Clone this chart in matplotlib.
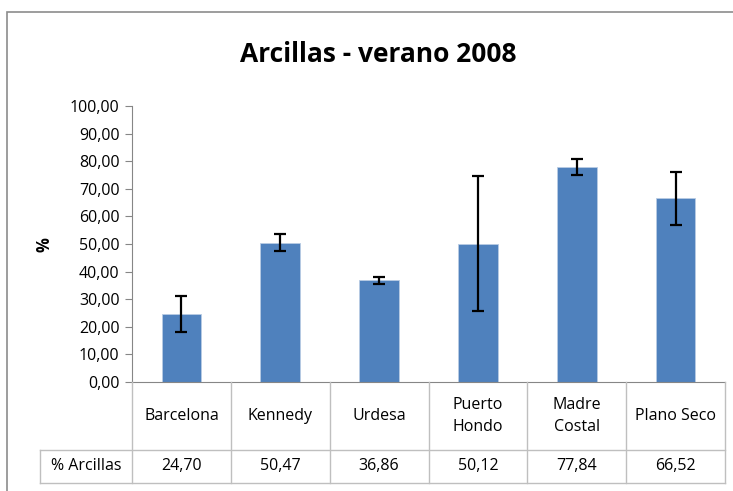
import numpy as np
import matplotlib
matplotlib.use("Agg")
from matplotlib import pyplot as plt
from matplotlib.patches import Rectangle

plt.rcParams['font.family'] = ['Liberation Sans Narrow', 'Open Sans', 'DejaVu Sans']

categorias = ["Barcelona", "Kennedy", "Urdesa", "Puerto\nHondo", "Madre\nCostal", "Plano Seco"]
arcillas = [24.70, 50.47, 36.86, 50.12, 77.84, 66.52]
error = [6.6, 3.0, 1.2, 24.5, 2.9, 9.7]
serie = "% Arcillas"

W, H = 733, 491
fig = plt.figure(figsize=(W / 100, H / 100), dpi=100)

# borde del area del grafico
fig.patches.append(Rectangle((7 / W, -0.1), 1.2, 1 - 12 / H + 0.1, transform=fig.transFigure,
                             fill=False, edgecolor="#8c8c8c", linewidth=1.2))

x0, x1, ytop, ybot = 132, 725, 106, 382
ax = fig.add_axes([x0 / W, 1 - ybot / H, (x1 - x0) / W, (ybot - ytop) / H])

x = np.arange(len(categorias))
ax.bar(x, arcillas, width=0.4, color="#4F81BD", edgecolor="#B8CCE4", linewidth=0.6, zorder=2)
ax.errorbar(x, arcillas, yerr=error, fmt="none", ecolor="black", elinewidth=1.6,
            capsize=4, capthick=1.6, zorder=3)

ax.set_xlim(-0.5, len(categorias) - 0.5)
ax.set_ylim(0, 100)
ax.set_yticks(np.arange(0, 101, 10))
ax.set_yticklabels([f"{v:.2f}".replace(".", ",") for v in np.arange(0, 101, 10)], fontsize=11.5)
ax.tick_params(axis="y", length=5, color="#868686", pad=4)
ax.set_xticks([])
for s in ["top", "right"]:
    ax.spines[s].set_visible(False)
ax.spines["left"].set_color("#868686")
ax.spines["bottom"].set_color("#868686")

fig.text(378 / W, 1 - 55 / H, "Arcillas - verano 2008", ha="center", va="center",
         fontsize=19, fontweight="bold")
fig.text(45 / W, 1 - 245 / H, "%", rotation=90, ha="center", va="center", fontsize=12, fontweight="bold")

# tabla de datos
gris = "#BFBFBF"
r1, r2 = 450, 483
lx = 40
def hline(y, xa, xb):
    fig.add_artist(plt.Line2D([xa / W, xb / W], [1 - y / H, 1 - y / H], color=gris, linewidth=1))
def vline(xp, ya, yb):
    fig.add_artist(plt.Line2D([xp / W, xp / W], [1 - ya / H, 1 - yb / H], color=gris, linewidth=1))

hline(r1, lx, x1)
hline(r2, lx, x1)
vline(lx, r1, r2)
cw = (x1 - x0) / len(categorias)
for i in range(len(categorias) + 1):
    vline(x0 + i * cw, ybot, r2)
for i, (c, v) in enumerate(zip(categorias, arcillas)):
    cx = (x0 + (i + 0.5) * cw) / W
    fig.text(cx, 1 - (ybot + r1) / 2 / H, c, ha="center", va="center", fontsize=11.5, linespacing=1.5)
    fig.text(cx, 1 - (r1 + r2) / 2 / H, f"{v:.2f}".replace(".", ","), ha="center", va="center", fontsize=11.5)
fig.text((lx + x0) / 2 / W, 1 - (r1 + r2) / 2 / H, serie, ha="center", va="center", fontsize=11.5)

fig.savefig("out.png", dpi=100)
